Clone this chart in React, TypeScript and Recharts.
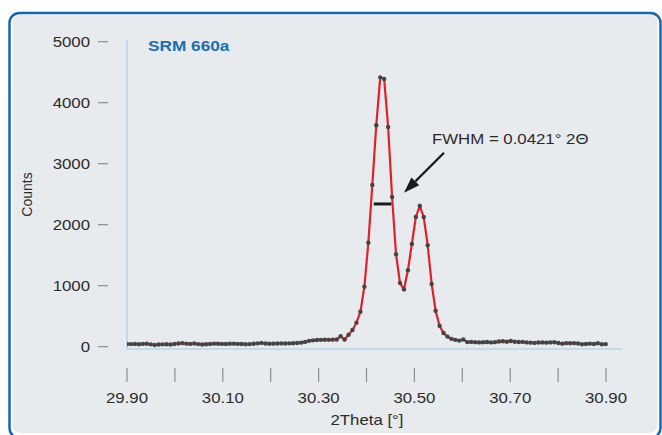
import { Line, LineChart, ReferenceLine, XAxis, YAxis } from "recharts";

// XRD scan of SRM 660a around the (110) reflection
const scanStart = 29.9;
const scanStep = 0.00826;

const counts = [
  45, 42, 44, 40, 46, 48, 38, 28, 35, 38,
  40, 37, 44, 52, 58, 50, 46, 52, 42, 36,
  40, 44, 50, 48, 46, 44, 48, 50, 46, 45,
  40, 42, 48, 55, 62, 52, 48, 50, 52, 54,
  52, 55, 56, 60, 66, 78, 96, 104, 110, 112,
  114, 112, 115, 118, 170, 118, 195, 274, 394, 574,
  984, 1705, 2651, 3630, 4416, 4389, 3602, 2454, 1515, 1044,
  941, 1252, 1684, 2126, 2307, 2126, 1662, 1028, 590, 342,
  225, 165, 128, 112, 100, 118, 75, 78, 74, 70,
  72, 76, 70, 74, 86, 90, 80, 92, 80, 76,
  78, 70, 66, 62, 68, 70, 66, 70, 72, 60,
  50, 58, 56, 58, 52, 40, 45, 50, 44, 56,
  40, 42,
];

const xTicks = [29.9, 30.0, 30.1, 30.2, 30.3, 30.4, 30.5, 30.6, 30.7, 30.8, 30.9];
const xTickLabels = ["29.90", "", "30.10", "", "30.30", "", "30.50", "", "30.70", "", "30.90"];
const yTicks = [0, 1000, 2000, 3000, 4000, 5000];

const title = "SRM 660a";
const xTitle = "2Theta [°]";
const yTitle = "Counts";
const fwhmText = "FWHM = 0.0421° 2Θ";
const fwhmBar = [{ x: 30.4152, y: 2340 }, { x: 30.4519, y: 2340 }];
const fwhmArrow = [{ x: 30.5618, y: 3180 }, { x: 30.4783, y: 2525 }];

const data = counts.map((c, i) => ({ theta: scanStart + i * scanStep, counts: c }));

const FONT = '"Liberation Sans", Arial, Helvetica, sans-serif';
const TEXT = "#2b2b2b";

function XTick(props: any) {
  const { x, y, payload } = props;
  const idx = xTicks.findIndex((t) => Math.abs(t - payload.value) < 1e-6);
  const label = xTickLabels[idx];
  return (
    <g>
      <line x1={x} x2={x} y1={y + 19} y2={y + 33} stroke="#8c8c8c" strokeWidth={1.2} />
      {label ? (
        <text
          transform={`translate(${x},${y + 54}) scale(1.2,1)`}
          textAnchor="middle"
          fontSize={14}
          fontFamily={FONT}
          fill={TEXT}
        >
          {label}
        </text>
      ) : null}
    </g>
  );
}

function YTick(props: any) {
  const { x, y, payload } = props;
  return (
    <g>
      <line x1={x - 29} x2={x - 19} y1={y} y2={y} stroke="#8c8c8c" strokeWidth={1.2} />
      <text
        transform={`translate(${x - 37},${y + 5}) scale(1.2,1)`}
        textAnchor="end"
        fontSize={14}
        fontFamily={FONT}
        fill={TEXT}
      >
        {payload.value}
      </text>
    </g>
  );
}

function XTitle(props: any) {
  const { viewBox } = props;
  return (
    <text
      transform={`translate(${viewBox.x + 240},${viewBox.y + 76}) scale(1.2,1)`}
      textAnchor="middle"
      fontSize={14}
      fontFamily={FONT}
      fill={TEXT}
    >
      {xTitle}
    </text>
  );
}

function YTitle(props: any) {
  const { viewBox } = props;
  return (
    <text
      transform={`translate(${viewBox.x + 5},${viewBox.y + viewBox.height / 2}) rotate(-90)`}
      textAnchor="middle"
      fontSize={14}
      fontFamily={FONT}
      fill={TEXT}
    >
      {yTitle}
    </text>
  );
}

function Arrow(props: any) {
  const { x1, y1, x2, y2 } = props;
  const ang = Math.atan2(y2 - y1, x2 - x1);
  const len = 16;
  const hw = 5.5;
  const bx = x2 - len * Math.cos(ang);
  const by = y2 - len * Math.sin(ang);
  const px = -Math.sin(ang) * hw;
  const py = Math.cos(ang) * hw;
  return (
    <g>
      <line x1={x1} y1={y1} x2={bx} y2={by} stroke="#1a1a1a" strokeWidth={2.2} />
      <polygon points={`${x2},${y2} ${bx + px},${by + py} ${bx - px},${by - py}`} fill="#1a1a1a" />
      <text
        transform={`translate(${x1 - 12},${y1 - 9}) scale(1.2,1)`}
        fontSize={14}
        fontFamily={FONT}
        fill={TEXT}
      >
        {fwhmText}
      </text>
    </g>
  );
}

export default function App() {
  return (
    <div style={{ position: "absolute", left: 0, top: 0, width: 662, height: 435, background: "#fff", overflow: "hidden" }}>
      <svg width={662} height={435} style={{ position: "absolute", left: 0, top: 0 }}>
        <rect x={9.5} y={13} width={651} height={425} rx={10} fill="#fff" stroke="#1766b2" strokeWidth={2.5} />
        <rect x={12.5} y={15} width={645} height={418} rx={8} fill="#e8ebee" />
        <text
          transform="translate(148,51) scale(1.15,1)"
          fontSize={15}
          fontWeight="bold"
          fontFamily={FONT}
          fill="#1c6db6"
        >
          {title}
        </text>
      </svg>
      <div style={{ position: "absolute", left: 0, top: 0 }}>
        <LineChart
          width={662}
          height={435}
          data={data}
          margin={{ top: 40, right: 40, bottom: 26, left: 27 }}
        >
          <XAxis
            type="number"
            dataKey="theta"
            domain={[29.9, 30.9334]}
            ticks={xTicks}
            interval={0}
            allowDataOverflow
            height={60}
            axisLine={{ stroke: "#9ccaea", strokeWidth: 1 }}
            tickLine={false}
            tickSize={0}
            tickMargin={0}
            tick={(p: any) => <XTick {...p} />}
            label={{ value: xTitle, content: (p: any) => <XTitle {...p} /> }}
          />
          <YAxis
            type="number"
            domain={[-38, 5028]}
            ticks={yTicks}
            interval={0}
            allowDataOverflow
            width={100}
            axisLine={{ stroke: "#9ccaea", strokeWidth: 1 }}
            tickLine={false}
            tickSize={0}
            tickMargin={0}
            tick={(p: any) => <YTick {...p} />}
            label={{ value: yTitle, content: (p: any) => <YTitle {...p} /> }}
          />
          <Line
            type="linear"
            dataKey="counts"
            stroke="#e3202a"
            strokeWidth={2.2}
            dot={{ r: 2.2, fill: "#444", stroke: "none" }}
            activeDot={false}
            isAnimationActive={false}
          />
          <ReferenceLine segment={fwhmBar} stroke="#1a1a1a" strokeWidth={3} />
          <ReferenceLine segment={fwhmArrow} shape={(p: any) => <Arrow {...p} />} />
        </LineChart>
      </div>
    </div>
  );
}
